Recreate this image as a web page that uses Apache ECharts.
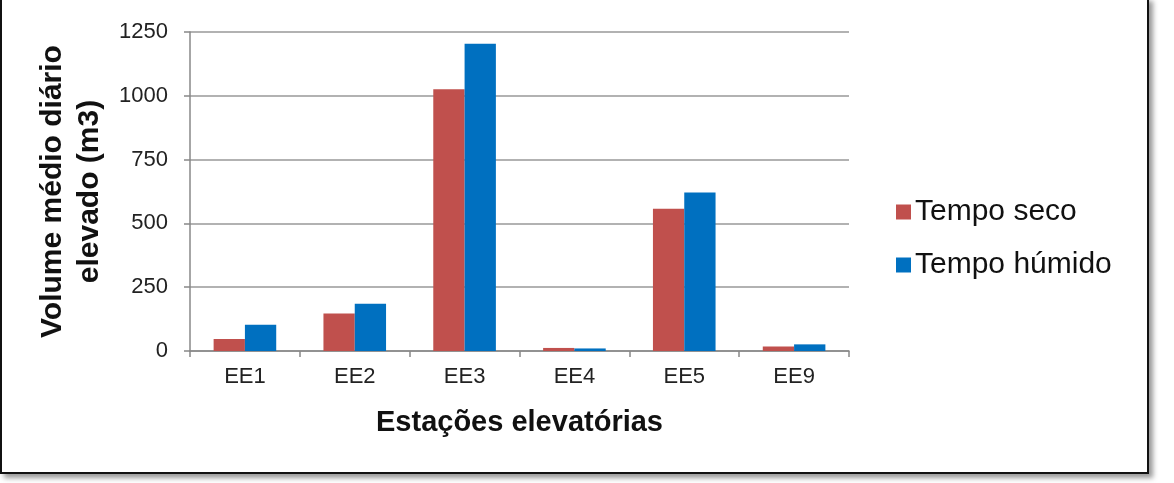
<!DOCTYPE html>
<html>
<head>
<meta charset="utf-8">
<script src="https://cdn.jsdelivr.net/npm/echarts@6/dist/echarts.min.js"></script>
<style>
html,body{margin:0;padding:0;background:#fff;width:1174px;height:483px;overflow:hidden;}
#frame{position:absolute;left:0;top:-3px;width:1145px;height:473px;border:2px solid #111;box-shadow:4px 4px 5px #999;background:#fff;}
#chart{position:absolute;left:0;top:0;width:1174px;height:483px;}
</style>
</head>
<body>
<div id="frame"></div>
<div id="chart"></div>
<script>
const categories = ['EE1', 'EE2', 'EE3', 'EE4', 'EE5', 'EE9'];
const tempoSeco = [47, 147, 1026, 12, 557, 18];
const tempoHumido = [103, 185, 1204, 10, 621, 26];
const seriesNames = ['Tempo seco', 'Tempo húmido'];
const yTicks = { min: 0, max: 1250, interval: 250 };

const chart = echarts.init(document.getElementById('chart'), null, { renderer: 'canvas' });
const font = 'Arial, "Liberation Sans", sans-serif';
chart.setOption({
  backgroundColor: 'transparent',
  animation: false,
  grid: { left: 190, right: 325, top: 32, bottom: 132 },
  legend: {
    orient: 'vertical',
    left: 891,
    top: 192,
    itemWidth: 15,
    itemHeight: 15,
    itemGap: 23,
    icon: 'rect',
    textStyle: { fontFamily: font, fontSize: 30, lineHeight: 30, color: '#111', padding: [0, 0, 0, -1] },
    data: seriesNames
  },
  xAxis: {
    type: 'category',
    data: categories,
    name: 'Estações elevatórias',
    nameLocation: 'middle',
    nameGap: 57,
    nameTextStyle: { fontFamily: font, fontSize: 29, fontWeight: 'bold', color: '#111' },
    axisLine: { lineStyle: { color: '#888', width: 1.5 } },
    axisTick: { show: true, length: 6, lineStyle: { color: '#888', width: 1.5 } },
    axisLabel: { fontFamily: font, fontSize: 22, color: '#222', margin: 15 }
  },
  yAxis: {
    type: 'value',
    min: yTicks.min, max: yTicks.max, interval: yTicks.interval,
    name: 'Volume médio diário\nelevado (m3)',
    nameLocation: 'middle',
    nameGap: 77,
    nameTextStyle: { fontFamily: font, fontSize: 30, fontWeight: 'bold', color: '#111', lineHeight: 37 },
    axisLine: { show: true, lineStyle: { color: '#888', width: 1.5 } },
    axisTick: { show: true, length: 6, lineStyle: { color: '#888', width: 1.5 } },
    splitLine: { lineStyle: { color: '#999', width: 1.5 } },
    axisLabel: { fontFamily: font, fontSize: 22, color: '#222', margin: 22, formatter: v => String(v) }
  },
  series: [
    { name: seriesNames[0], type: 'bar', data: tempoSeco, itemStyle: { color: '#C0504D' }, barGap: '0%', barCategoryGap: '43%' },
    { name: seriesNames[1], type: 'bar', data: tempoHumido, itemStyle: { color: '#0070C0' }, barGap: '0%', barCategoryGap: '43%' }
  ]
});
</script>
</body>
</html>
